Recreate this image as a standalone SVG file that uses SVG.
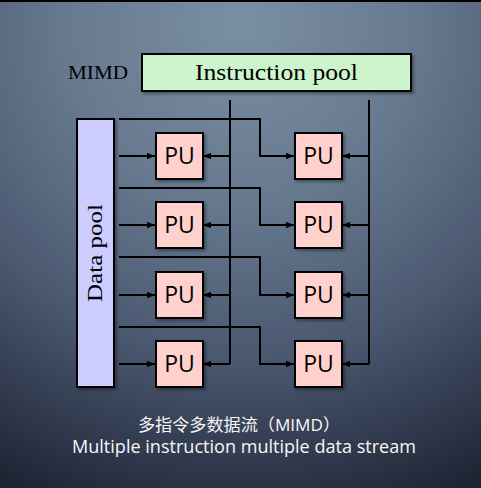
<svg xmlns="http://www.w3.org/2000/svg" width="481" height="488" viewBox="0 0 481 488">
<defs>
<radialGradient id="bg" cx="0.5" cy="0.05" r="1.05" fx="0.5" fy="0.05">
<stop offset="0" stop-color="#7a8ea4"/>
<stop offset="0.35" stop-color="#66798f"/>
<stop offset="0.65" stop-color="#4a5870"/>
<stop offset="1" stop-color="#1f2434"/>
</radialGradient>
<filter id="sh" x="-20%" y="-20%" width="150%" height="150%">
<feDropShadow dx="2" dy="2" stdDeviation="1.5" flood-color="#000" flood-opacity="0.35"/>
</filter>
<marker id="ah" viewBox="0 0 10 8" refX="10" refY="4" markerWidth="8" markerHeight="6.4" markerUnits="userSpaceOnUse" orient="auto">
<path d="M0,0 L10,4 L0,8 Z" fill="#000"/>
</marker>
</defs>
<style>
.pu rect{fill:#ffd0cc;stroke:#000;stroke-width:2;filter:url(#sh)}
.pu text{font-family:"Open Sans","DejaVu Sans",sans-serif;font-size:23px;fill:#000;text-anchor:middle}
.serif{font-family:"Liberation Serif","DejaVu Serif",serif;fill:#000}
.c path{fill:none;stroke:#000;stroke-width:2}
.a{marker-end:url(#ah)}
.cap{font-family:"Open Sans","Noto Sans CJK SC",sans-serif;fill:#f7f7f7;text-anchor:middle}
</style>
<rect width="481" height="488" fill="url(#bg)"/>
<rect width="481" height="2" fill="#000"/>

<g id="mimd-label"><text class="serif" x="68" y="79" font-size="19" textLength="60" lengthAdjust="spacingAndGlyphs">MIMD</text></g>

<g id="instruction-pool">
<rect x="142" y="54" width="269" height="37" fill="#ccf5cc" stroke="#000" stroke-width="2" filter="url(#sh)"/>
<text class="serif" x="276.5" y="80" font-size="23" text-anchor="middle" textLength="163" lengthAdjust="spacingAndGlyphs">Instruction pool</text>
</g>

<g id="data-pool">
<rect x="77" y="119" width="37" height="268" fill="#ccccff" stroke="#000" stroke-width="2" filter="url(#sh)"/>
<text class="serif" transform="translate(102,253) rotate(-90)" font-size="22" text-anchor="middle" textLength="98" lengthAdjust="spacingAndGlyphs">Data pool</text>
</g>

<g class="c" id="connectors">
<path d="M230,100 V364"/>
<path d="M369,100 V364"/>
<path class="a" d="M230,156 H203"/>
<path class="a" d="M230,225 H203"/>
<path class="a" d="M230,295 H203"/>
<path class="a" d="M230,364 H203"/>
<path class="a" d="M369,156 H342"/>
<path class="a" d="M369,225 H342"/>
<path class="a" d="M369,295 H342"/>
<path class="a" d="M369,364 H342"/>
<path class="a" d="M119,156 H155"/>
<path class="a" d="M119,225 H155"/>
<path class="a" d="M119,295 H155"/>
<path class="a" d="M119,364 H155"/>
<path class="a" d="M119,119 H260 V156 H294"/>
<path class="a" d="M119,188 H260 V225 H294"/>
<path class="a" d="M119,257 H260 V295 H294"/>
<path class="a" d="M119,327 H260 V364 H294"/>
</g>

<g class="pu" id="pu-1-1"><rect x="156" y="133" width="47" height="46"/><text x="179.5" y="164">PU</text></g>
<g class="pu" id="pu-1-2"><rect x="295" y="133" width="47" height="46"/><text x="318.5" y="164">PU</text></g>
<g class="pu" id="pu-2-1"><rect x="156" y="202" width="47" height="46"/><text x="179.5" y="233">PU</text></g>
<g class="pu" id="pu-2-2"><rect x="295" y="202" width="47" height="46"/><text x="318.5" y="233">PU</text></g>
<g class="pu" id="pu-3-1"><rect x="156" y="272" width="47" height="46"/><text x="179.5" y="303">PU</text></g>
<g class="pu" id="pu-3-2"><rect x="295" y="272" width="47" height="46"/><text x="318.5" y="303">PU</text></g>
<g class="pu" id="pu-4-1"><rect x="156" y="341" width="47" height="46"/><text x="179.5" y="372">PU</text></g>
<g class="pu" id="pu-4-2"><rect x="295" y="341" width="47" height="46"/><text x="318.5" y="372">PU</text></g>

<g id="caption">
<text class="cap" x="239" y="431" font-size="16.5" textLength="202" lengthAdjust="spacingAndGlyphs">多指令多数据流（MIMD）</text>
<text class="cap" x="244" y="453" font-size="17.5" textLength="344" lengthAdjust="spacingAndGlyphs">Multiple instruction multiple data stream</text>
</g>
</svg>
